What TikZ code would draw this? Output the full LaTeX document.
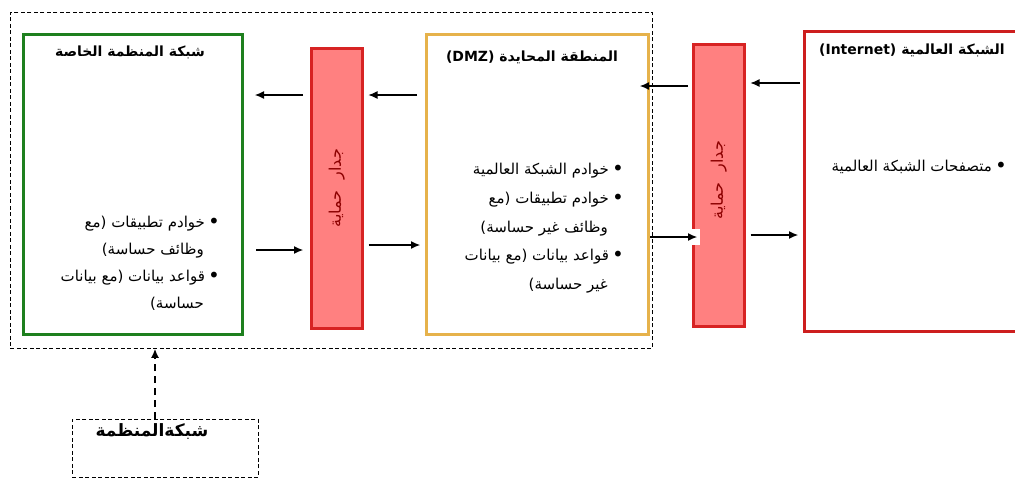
\documentclass[tikz,border=0pt]{standalone}
\usepackage{fontspec}
\setmainfont{DejaVu Sans}
\newfontfamily\arabicfont[Script=Arabic]{DejaVu Sans}
\TeXXeTstate=1
\usetikzlibrary{arrows.meta,calc}
\definecolor{gborder}{RGB}{30,128,30}
\definecolor{oborder}{RGB}{230,178,75}
\definecolor{rborder}{RGB}{205,30,30}
\definecolor{fwfill}{RGB}{255,128,128}
\definecolor{fwborder}{RGB}{215,35,35}
\definecolor{fwtext}{RGB}{140,0,0}
\newcommand{\bigbul}{\raisebox{-1.2pt}{\fontsize{20}{20}\selectfont •}\hspace{3pt}}
\begin{document}
\begin{tikzpicture}[x=1pt,y=-1pt,
  box/.style={draw, line width=3pt, anchor=north west, inner sep=0pt},
  fwbox/.style={draw=fwborder, fill=fwfill, line width=2.5pt, anchor=north west, inner sep=0pt, minimum width=51pt},
  dashbox/.style={draw, dash pattern=on 4pt off 2.5pt, line width=0.8pt, anchor=north west, inner sep=0pt},
  title/.style={font=\arabicfont\bfseries\fontsize{14}{16}\selectfont, inner sep=0pt},
  body/.style={font=\arabicfont\fontsize{15}{27}\selectfont, inner sep=0pt, align=right, anchor=north east},
  fwlabel/.style={font=\arabicfont\fontsize{16}{18}\selectfont, text=fwtext, rotate=90, inner sep=0pt},
  arr/.style={-{Latex[length=9pt,width=8pt]}, line width=1.1pt},
  dasharr/.style={-{Latex[length=9pt,width=8pt]}, line width=1.6pt, dash pattern=on 7pt off 5pt}
]
\clip (0,0) rectangle (1015,483);
\fill[white] (0,0) rectangle (1015,483);

% outer dashed frame and organisation box
\node[dashbox, minimum width=642pt, minimum height=336pt] (outer) at (10,12) {};
\node[dashbox, minimum width=186pt, minimum height=58pt] (org) at (72,419) {};
\node[title, font=\arabicfont\bfseries\fontsize{17}{19}\selectfont] (orgt) at (152,432) {\beginR شبكةالمنظمة\endR};

% main boxes
\node[box, draw=gborder, minimum width=219pt, minimum height=300pt] (green) at (22,33) {};
\node[box, draw=oborder, minimum width=222pt, minimum height=300pt] (dmz) at (425,33) {};
\node[box, draw=rborder, minimum width=222pt, minimum height=300pt] (inet) at (803,30) {};

% firewalls
\node[fwbox, minimum height=280pt] (fw1) at (310,47) {};
\node[fwbox, minimum height=282pt] (fw2) at (692,43) {};
\node[fwlabel] (fw1t) at (fw1.center) {\beginR جدار\hspace{11pt}حماية\endR};
\node[fwlabel] (fw2t) at ($(fw2.center)+(0,-5)$) {\beginR جدار\hspace{11pt}حماية\endR};

% titles
\node[title] (greent) at (130,52) {\beginR شبكة المنظمة الخاصة\endR};
\node[title] (dmzt) at (532,57) {\beginR المنطقة المحايدة \beginL(DMZ)\endL\endR};
\node[title] (inett) at (912,50) {\beginR الشبكة العالمية \beginL(Internet)\endL\endR};

% bullet texts
\node[body] (greenb) at (220,216) {%
\beginR\bigbul خوادم تطبيقات (مع\endR\\
\beginR\hspace{16pt}وظائف حساسة)\endR\\
\beginR\bigbul قواعد بيانات (مع بيانات\endR\\
\beginR\hspace{16pt}حساسة)\endR};
\node[body, font=\arabicfont\fontsize{15}{28.7}\selectfont] (dmzb) at (624,163) {%
\beginR\bigbul خوادم الشبكة العالمية\endR\\
\beginR\bigbul خوادم تطبيقات (مع\endR\\
\beginR\hspace{16pt}وظائف غير حساسة)\endR\\
\beginR\bigbul قواعد بيانات (مع بيانات\endR\\
\beginR\hspace{16pt}غير حساسة)\endR};
\node[body] (inetb) at (1007,160) {\beginR\bigbul متصفحات الشبكة العالمية\endR};

% connectors, upper row (inbound)
\draw[arr, shorten <=7pt, shorten >=11pt] (fw1.west |- 0,95) -- (green.east |- 0,95);
\draw[arr, shorten <=8pt, shorten >=5pt] (dmz.west |- 0,95) -- (fw1.east |- 0,95);
\draw[arr, shorten <=4pt, shorten >=-10pt] (fw2.west |- 0,86) -- (dmz.east |- 0,86);
\draw[arr, shorten <=3pt, shorten >=5pt] (inet.west |- 0,83) -- (fw2.east |- 0,83);

% connectors, lower row (outbound)
\draw[arr, shorten <=12pt, shorten >=7pt] (green.east |- 0,250) -- (fw1.west |- 0,250);
\draw[arr, shorten <=5pt, shorten >=5pt] (fw1.east |- 0,245) -- (dmz.west |- 0,245);
\fill[white] ($(fw2.west |- 0,237)+(-4,-8)$) rectangle +(12,16);
\draw[arr, shorten <=0pt, shorten >=-5pt] (dmz.east |- 0,237) -- (fw2.west |- 0,237);
\draw[arr, shorten <=5pt, shorten >=5pt] (fw2.east |- 0,235) -- (inet.west |- 0,235);

% organisation network to the enclosed network
\draw[dasharr] (org.north -| 155,0) -- (outer.south -| 155,0);
\end{tikzpicture}
\end{document}
